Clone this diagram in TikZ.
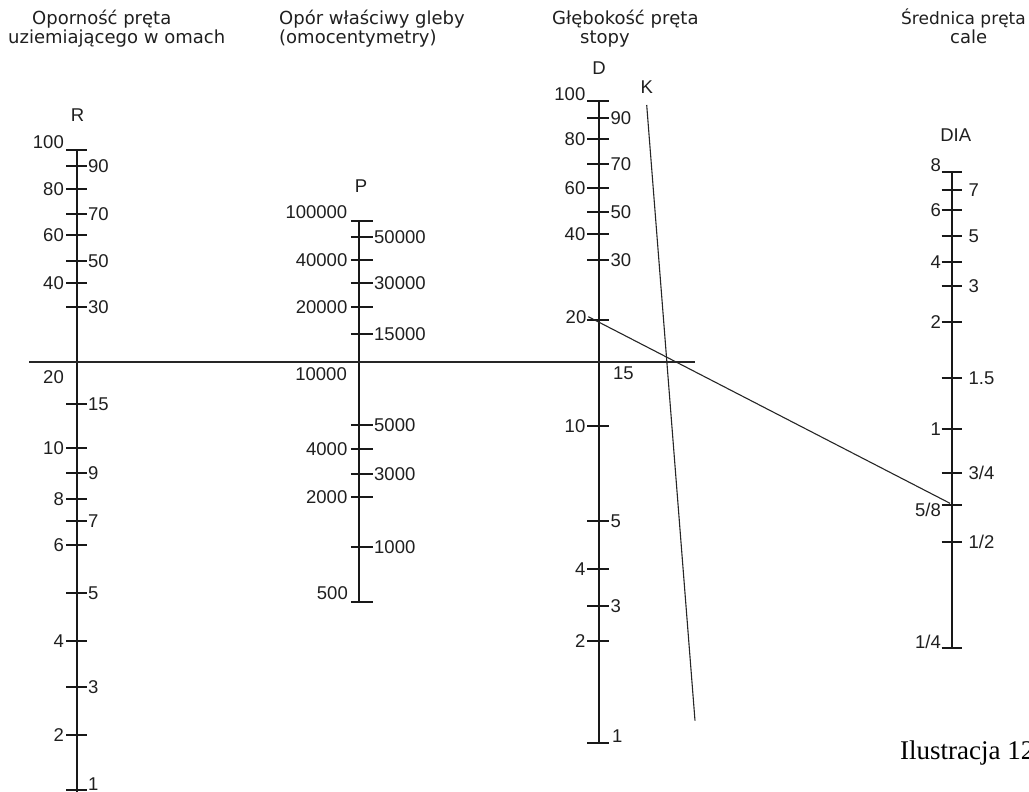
\documentclass[tikz,border=0pt]{standalone}
\usepackage{fontspec}
\setmainfont{Liberation Sans}
\newfontfamily\hdrfont{DejaVu Sans}
\newfontfamily\capfont{Liberation Serif}
\begin{document}
\begin{tikzpicture}[x=1pt,y=-1pt,
  axis/.style={line width=2.2pt,draw=black!90},
  tk/.style={line width=2pt,draw=black!90},
  lbl/.style={inner sep=0pt,text=black!88,font=\fontsize{18.5}{18.5}\selectfont},
  hdr/.style={inner sep=0pt,anchor=base west,text=black!88,font=\hdrfont\fontsize{18}{18}\selectfont},
  guide/.style={line width=1.3pt,draw=black!85}]
\useasboundingbox (0,0) rectangle (1029,792);

% headers
\node[hdr] (h1a) at (32,25) {Oporność pręta};
\node[hdr] (h1b) at (8,44) {uziemiającego w omach};
\node[hdr] (h2a) at (279,25) {Opór właściwy gleby};
\node[hdr] (h2b) at (279,44) {(omocentymetry)};
\node[hdr] (h3a) at (552,25) {Głębokość pręta};
\node[hdr] (h3b) at (580,44) {stopy};
\node[hdr,anchor=base east,font=\hdrfont\fontsize{17}{17}\selectfont] (h4a) at (1026,25) {Średnica pręta};
\node[hdr] (h4b) at (950,44) {cale};

% ---------- R axis ----------
\coordinate (Rtop) at (77,150);
\coordinate (Rbot) at (77,792);
\draw[axis] (Rtop) -- (Rbot);
\node[lbl] (Rname) at (77.5,115) {R};
\draw[tk] (66,150) -- (87,150);
\node[lbl,anchor=south east] (R100) at (64,148.5) {100};
\foreach \y/\t [count=\i] in {189/80,235/60,283/40,448/10,499/8,545/6,641/4,735/2}{
  \draw[tk] (66,\y) -- (87,\y);
  \node[lbl,anchor=east] (RL\i) at (64,\y) {\t};}
\foreach \y/\t [count=\i] in {166/90,214/70,261/50,307/30,404/15,473/9,521/7,593/5,687/3}{
  \draw[tk] (66,\y) -- (87,\y);
  \node[lbl,anchor=west] (RR\i) at (88,\y) {\t};}
\draw[tk] (66,790) -- (87,790);
\node[lbl,anchor=west] (R1) at (88,784) {1};
\node[lbl,anchor=east] (R20) at (64,377) {20};

% ---------- P axis ----------
\coordinate (Ptop) at (359,221);
\coordinate (Pbot) at (359,602);
\draw[axis] (Ptop) -- (Pbot);
\node[lbl] (Pname) at (361,186) {P};
\draw[tk] (350.8,221) -- (372.8,221);
\node[lbl,anchor=south east] (P100000) at (347.5,219) {100000};
\foreach \y/\t [count=\i] in {260/40000,307/20000,449/4000,497/2000}{
  \draw[tk] (350.8,\y) -- (372.8,\y);
  \node[lbl,anchor=east] (PL\i) at (347.5,\y) {\t};}
\foreach \y/\t [count=\i] in {237/50000,283/30000,334/15000,425/5000,474/3000,547/1000}{
  \draw[tk] (350.8,\y) -- (372.8,\y);
  \node[lbl,anchor=west] (PR\i) at (374,\y) {\t};}
\draw[tk] (350.8,602) -- (372.8,602);
\node[lbl,anchor=south east] (P500) at (348,600) {500};
\node[lbl,anchor=east] (P10000) at (347,374) {10000};

% ---------- D axis ----------
\coordinate (Dtop) at (599,101);
\coordinate (Dbot) at (599,743);
\draw[axis] (Dtop) -- (Dbot);
\node[lbl] (Dname) at (599,68) {D};
\node[lbl] (Kname) at (646.7,87.5) {K};
\draw[tk] (587,101) -- (609,101);
\node[lbl,anchor=south east] (D100) at (585.5,101) {100};
\foreach \y/\t [count=\i] in {139/80,188/60,234/40,426/10,569/4,641/2}{
  \draw[tk] (587,\y) -- (609,\y);
  \node[lbl,anchor=east] (DL\i) at (585.5,\y) {\t};}
\foreach \y/\t [count=\i] in {118/90,164/70,212/50,260/30,521/5,606/3}{
  \draw[tk] (587,\y) -- (609,\y);
  \node[lbl,anchor=west] (DR\i) at (610.5,\y) {\t};}
\draw[tk] (587,320) -- (609,320);
\node[lbl,anchor=east] (D20) at (586.5,317) {20};
\draw[tk] (587,743) -- (609,743);
\node[lbl,anchor=south west] (D1) at (612,743) {1};
\node[lbl,anchor=west] (D15) at (613,373.3) {15};

% ---------- DIA axis ----------
\coordinate (Atop) at (952,172);
\coordinate (Abot) at (952,648);
\draw[axis] (Atop) -- (Abot);
\node[lbl] (Aname) at (955.8,135) {DIA};
\draw[tk] (941.5,172) -- (962.3,172);
\node[lbl,anchor=south east] (A8) at (941,172) {8};
\foreach \y/\t [count=\i] in {210/6,262/4,322/2,429/1}{
  \draw[tk] (941.5,\y) -- (962.3,\y);
  \node[lbl,anchor=east] (AL\i) at (941,\y) {\t};}
\foreach \y/\t [count=\i] in {190/7,236/5,286/3,378/1.5}{
  \draw[tk] (941.5,\y) -- (962.3,\y);
  \node[lbl,anchor=west] (AR\i) at (968.5,\y) {\t};}
\draw[tk] (941.5,473) -- (962.3,473);
\node[lbl,anchor=west] (A34) at (968.5,473) {3/4};
\draw[tk] (941.5,542) -- (962.3,542);
\node[lbl,anchor=west] (A12) at (968.5,542) {1/2};
\draw[tk] (941.5,505) -- (962.3,505);
\node[lbl,anchor=east] (A58) at (941,510) {5/8};
\draw[tk] (941.5,648) -- (962.3,648);
\node[lbl,anchor=east] (A14) at (941,641.7) {1/4};

% ---------- guide lines ----------
\coordinate (H1) at (29.3,362);
\coordinate (H2) at (695,362);
\draw[guide] (H1) -- (H2);
\coordinate (S1) at (588.3,316.7);
\coordinate (S2) at (950,503.3);
\draw[guide,line width=1.1pt] (S1) -- (S2);
\coordinate (K1) at (646.7,105);
\coordinate (K2) at (695,720.7);
\draw[guide,line width=1.1pt] (K1) -- (K2);

% caption
\node[inner sep=0pt,anchor=base west,font=\capfont\fontsize{27}{27}\selectfont] (cap) at (900,759) {Ilustracja 12};
\end{tikzpicture}
\end{document}
